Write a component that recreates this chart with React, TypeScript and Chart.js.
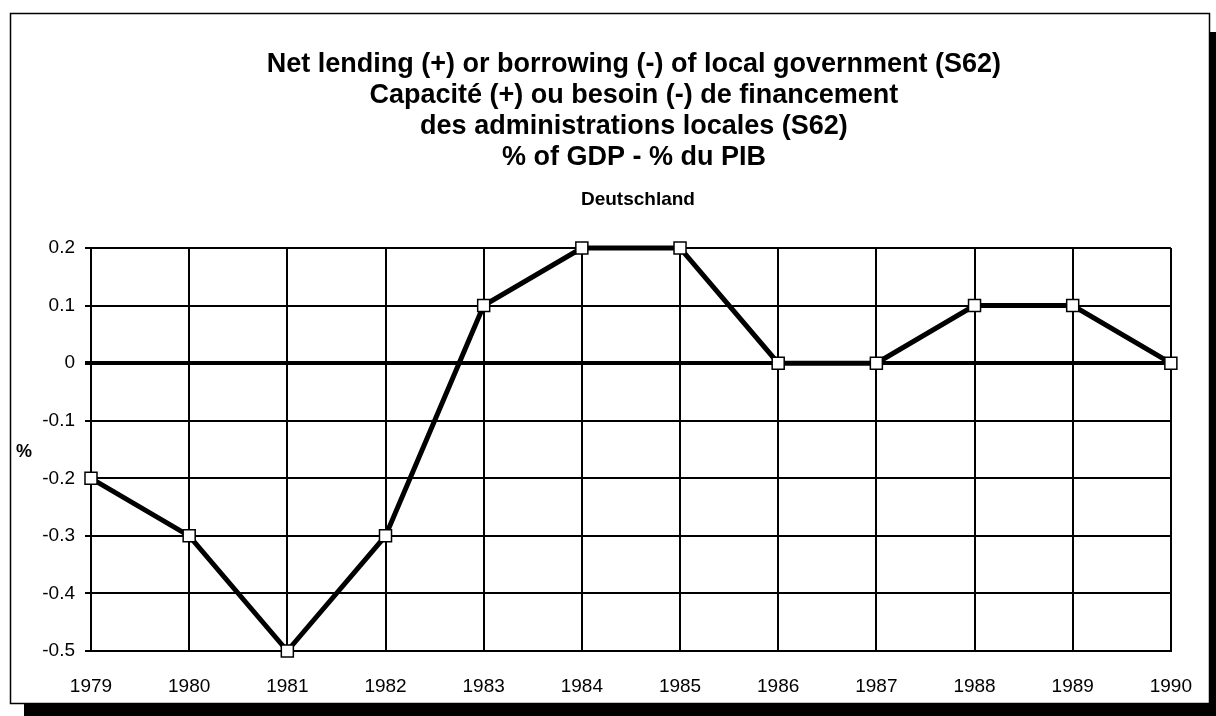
import React, { useEffect, useRef } from "react";
import { Chart, registerables } from "chart.js";

Chart.register(...registerables);

const years = ["1979", "1980", "1981", "1982", "1983", "1984", "1985", "1986", "1987", "1988", "1989", "1990"];
const netLending = [-0.2, -0.3, -0.5, -0.3, 0.1, 0.2, 0.2, 0, 0, 0.1, 0.1, 0];
const titleLines = [
  "Net lending (+) or borrowing (-) of local government (S62)",
  "Capacité (+) ou besoin (-) de financement",
  "des administrations locales (S62)",
  "% of GDP - % du PIB",
];
const subtitleText = "Deutschland";
const yAxisLabel = "%";
const yMin = -0.5;
const yMax = 0.2;
const yStep = 0.1;

const FONT = "'Liberation Sans', Arial, Helvetica, sans-serif";

const framePlugin = {
  id: "frameAndTitles",
  beforeDraw(chart: any) {
    const ctx = chart.ctx;
    ctx.save();
    ctx.fillStyle = "#ffffff";
    ctx.fillRect(0, 0, chart.width, chart.height);
    // drop shadow
    ctx.fillStyle = "#000000";
    ctx.fillRect(24, 703, chart.width - 24, chart.height - 703);
    ctx.fillRect(1209, 32, chart.width - 1209, chart.height - 32);
    // frame
    ctx.fillStyle = "#ffffff";
    ctx.fillRect(10, 13, 1199, 690);
    ctx.strokeStyle = "#000000";
    ctx.lineWidth = 1.5;
    ctx.strokeRect(10.5, 13.5, 1199, 690);
    ctx.restore();
  },
  afterDraw(chart: any) {
    const ctx = chart.ctx;
    const ca = chart.chartArea;
    const cx = (ca.left + ca.right) / 2 + 3;
    ctx.save();
    ctx.fillStyle = "#000000";
    ctx.textAlign = "center";
    ctx.textBaseline = "alphabetic";
    ctx.font = `bold 27px ${FONT}`;
    titleLines.forEach((line, i) => {
      ctx.fillText(line, cx, 72 + i * 31);
    });
    ctx.font = `bold 19px ${FONT}`;
    ctx.fillText(subtitleText, cx + 4, 205);
    ctx.font = `bold 18px ${FONT}`;
    ctx.textBaseline = "middle";
    ctx.fillText(yAxisLabel, 24, 452);
    ctx.restore();
  },
};

export default function App() {
  const canvasRef = useRef<HTMLCanvasElement | null>(null);

  useEffect(() => {
    if (!canvasRef.current) return;
    const chart = new Chart(canvasRef.current, {
      type: "line",
      data: {
        labels: years,
        datasets: [
          {
            data: netLending,
            borderColor: "#000000",
            borderWidth: 5,
            pointStyle: "rect",
            pointRadius: 8.5,
            pointBackgroundColor: "#ffffff",
            pointBorderColor: "#000000",
            pointBorderWidth: 1.5,
            tension: 0,
            clip: false as any,
          },
        ],
      },
      options: {
        responsive: false,
        animation: false,
        events: [],
        layout: { padding: { top: 248, left: 0, right: 44, bottom: 0 } },
        plugins: {
          legend: { display: false },
          title: { display: false },
          tooltip: { enabled: false },
        },
        scales: {
          x: {
            offset: false,
            grid: {
              color: "#000000",
              lineWidth: 2,
              drawTicks: false,
              tickLength: 0,
            },
            border: { display: true, color: "#000000", width: 2 },
            ticks: {
              color: "#000000",
              font: { family: FONT, size: 19 },
              padding: 24,
              maxRotation: 0,
              autoSkip: false,
            },
            afterFit(scale: any) {
              scale.height = 65;
            },
          },
          y: {
            min: yMin,
            max: yMax,
            grid: {
              color: "#000000",
              lineWidth: (c: any) => (c.tick && Math.abs(c.tick.value) < 1e-9 ? 4 : 2),
              drawTicks: true,
              tickLength: 6,
            },
            border: { display: true, color: "#000000", width: 2 },
            ticks: {
              stepSize: yStep,
              color: "#000000",
              font: { family: FONT, size: 19 },
              padding: 10,
              callback: (v: any) => {
                const n = Math.round(Number(v) * 10) / 10;
                return n === 0 ? "0" : n.toString();
              },
            },
            afterFit(scale: any) {
              scale.width = 91;
            },
          },
        },
      },
      plugins: [framePlugin],
    });
    return () => chart.destroy();
  }, []);

  return (
    <div style={{ position: "absolute", left: 0, top: 0, width: 1216, height: 716 }}>
      <canvas ref={canvasRef} width={1216} height={716} style={{ display: "block", width: 1216, height: 716 }} />
    </div>
  );
}
